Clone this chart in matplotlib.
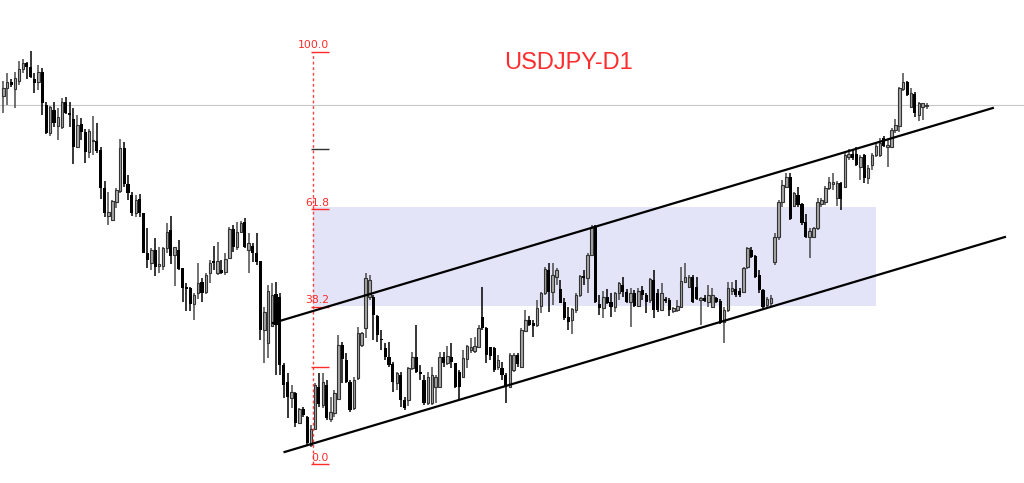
import matplotlib
matplotlib.use("Agg")
import matplotlib.pyplot as plt
from matplotlib.patches import Rectangle
import numpy as np

# daily candles, price levels in chart points (higher = higher price)
opens = [
    404, 412, 418, 411, 419, 431, 437, 433, 421, 418,
    428, 395, 367, 390, 374, 373, 398, 387, 381, 353,
    376, 368, 348, 359, 359, 350, 312, 284, 280, 298,
    309, 352, 316, 305, 287, 301, 287, 247, 237, 250,
    234, 234, 252, 270, 245, 250, 232, 213,
    212, 196, 207, 218, 208, 227, 239, 227, 230, 228,
    242, 271, 253, 268, 278, 250, 254, 247, 239, 170,
    157, 174, 206, 203, 135, 118, 102, 107, 77, 91,
    83, 55, 71, 113, 95, 115, 81, 87, 101, 155,
    140, 118, 92, 122, 155, 172, 203, 203,
    184, 161, 152, 143, 136, 117, 125, 100, 100, 132,
    143, 128, 120, 97, 97, 113, 113, 143, 137, 143,
    137, 128, 123, 141, 150, 149, 153, 183, 172, 153,
    152, 133, 132, 125, 113, 130, 145, 133, 169, 180,
    177, 175, 194, 207, 230, 208, 223,
    211, 198, 183, 180, 190, 205, 224, 222, 245, 274,
    196, 192, 203, 198, 193, 207, 215, 208, 198, 207,
    194, 210, 205, 200, 220, 207, 190, 201, 200, 189,
    190, 193, 218, 213, 223, 213, 200, 202, 198, 193,
    202, 199, 178, 190, 209, 211, 209, 208,
    233, 250, 244, 225, 210, 195, 197, 238, 263, 298,
    313, 323, 294, 305, 296, 278, 263, 263, 272, 296,
    298, 312, 316, 302, 317, 313, 343, 346, 346, 333,
    345, 322, 335, 345, 345, 362, 353, 353, 370, 374,
    411, 418, 393, 406, 385, 393, 394,
]
highs = [
    419, 427, 421, 428, 439, 441, 438, 449, 427, 435,
    432, 398, 394, 398, 392, 402, 403, 398, 392, 385,
    382, 371, 371, 384, 377, 353, 319, 308, 300, 312,
    361, 358, 325, 308, 305, 306, 287, 272, 252, 262,
    253, 253, 277, 284, 253, 260, 232, 217,
    213, 207, 237, 222, 227, 240, 254, 258, 240, 247,
    273, 275, 278, 279, 282, 267, 257, 267, 239, 193,
    215, 217, 218, 207, 137, 127, 115, 108, 92, 93,
    84, 75, 117, 127, 127, 120, 103, 110, 165, 158,
    147, 120, 123, 173, 168, 227, 225, 205,
    185, 170, 157, 158, 138, 128, 128, 103, 133, 148,
    175, 135, 125, 128, 133, 125, 148, 148, 154, 157,
    137, 130, 150, 155, 162, 163, 175, 213, 173, 153,
    153, 145, 138, 127, 147, 147, 147, 172, 190, 184,
    180, 200, 208, 233, 237, 237, 232,
    220, 202, 193, 192, 207, 225, 230, 247, 275, 275,
    205, 209, 211, 207, 208, 218, 223, 211, 212, 210,
    212, 214, 207, 222, 230, 211, 217, 203, 202, 193,
    200, 233, 237, 225, 225, 223, 203, 205, 215, 212,
    203, 201, 193, 218, 218, 220, 212, 233,
    253, 253, 245, 230, 211, 203, 205, 267, 300, 320,
    327, 327, 308, 313, 297, 286, 272, 273, 302, 302,
    314, 323, 327, 319, 318, 348, 351, 350, 353, 345,
    346, 335, 347, 357, 362, 364, 360, 372, 381, 413,
    427, 419, 412, 408, 398, 397, 397,
]
lows = [
    387, 395, 413, 392, 415, 427, 421, 422, 407, 410,
    385, 366, 364, 373, 360, 371, 386, 373, 336, 352,
    360, 337, 342, 345, 347, 301, 283, 275, 279, 292,
    307, 313, 300, 284, 283, 283, 247, 232, 230, 224,
    227, 230, 247, 236, 214, 230, 198, 189,
    189, 180, 201, 198, 206, 217, 230, 225, 226, 225,
    241, 248, 250, 267, 252, 227, 238, 235, 160, 137,
    142, 173, 125, 125, 102, 82, 92, 73, 77, 83,
    54, 53, 70, 93, 92, 80, 78, 83, 100, 117,
    117, 88, 90, 120, 153, 162, 200, 160,
    158, 150, 140, 133, 108, 110, 93, 90, 94, 130,
    127, 120, 95, 95, 95, 97, 112, 133, 135, 132,
    112, 101, 123, 132, 147, 147, 152, 170, 137, 140,
    128, 130, 120, 97, 112, 128, 133, 132, 168, 174,
    163, 173, 187, 205, 188, 195, 215,
    197, 180, 170, 166, 187, 203, 215, 207, 244, 197,
    185, 182, 196, 183, 188, 200, 203, 197, 173, 193,
    193, 200, 187, 197, 182, 188, 189, 197, 184, 187,
    188, 192, 217, 212, 197, 200, 175, 198, 193, 193,
    197, 176, 157, 188, 205, 203, 203, 207,
    231, 242, 222, 207, 190, 192, 193, 235, 260, 293,
    312, 280, 293, 293, 275, 262, 242, 262, 270, 293,
    295, 310, 310, 294, 290, 312, 340, 340, 334, 320,
    317, 316, 330, 343, 343, 353, 333, 352, 367, 368,
    409, 404, 392, 383, 379, 380, 391,
]
closes = [
    412, 418, 415, 422, 431, 437, 433, 423, 417, 428,
    397, 367, 393, 377, 383, 398, 387, 385, 353, 375,
    368, 348, 369, 360, 349, 312, 287, 288, 299, 310,
    352, 316, 307, 287, 300, 287, 247, 240, 250, 233,
    236, 252, 268, 244, 253, 231, 212, 211,
    196, 205, 217, 207, 225, 237, 237, 239, 227, 241,
    271, 253, 268, 277, 253, 257, 247, 238, 170, 188,
    209, 205, 175, 135, 115, 103, 108, 77, 91, 85,
    57, 71, 115, 96, 118, 82, 88, 107, 155, 141,
    118, 90, 120, 167, 167, 222, 220, 185,
    165, 160, 143, 135, 118, 127, 100, 92, 132, 143,
    128, 126, 97, 123, 125, 123, 143, 137, 144, 138,
    113, 113, 142, 154, 153, 154, 172, 172, 145, 144,
    130, 140, 125, 113, 145, 145, 136, 170, 180, 175,
    174, 192, 207, 231, 208, 225, 230,
    197, 182, 178, 191, 205, 224, 222, 245, 273, 198,
    192, 203, 197, 193, 207, 217, 208, 198, 207, 194,
    209, 205, 198, 221, 190, 190, 207, 199, 190, 192,
    194, 219, 223, 223, 198, 201, 202, 199, 205, 205,
    198, 177, 190, 212, 212, 205, 205, 232,
    252, 243, 223, 210, 193, 201, 202, 263, 298, 315,
    323, 281, 307, 295, 277, 263, 269, 272, 298, 300,
    312, 318, 318, 317, 301, 345, 346, 342, 335, 343,
    322, 332, 345, 354, 357, 354, 355, 370, 375, 412,
    418, 405, 407, 387, 397, 397, 395,
]

# fibonacci retracement (anchored high / low, in the same points)
fib_low, fib_high = 35.7, 448.3
fib_bar = 79.5
fib_levels = [0.0, 23.6, 38.2, 61.8, 76.4, 100.0]
fib_labels = ["0.0", "", "38.2", "61.8", "", "100.0"]
fib_colors = ["#ff2a2a", "#ff2a2a", "#ff2a2a", "#ff2a2a", "#303030", "#ff2a2a"]

# shaded zone between 38.2 and 61.8
zone_bars = [79.5, 224.0]
zone_prices = [194, 293]

# channel lines (bar index, price)
upper_x, upper_y = [69.2, 254.0], [177, 392]
lower_x, lower_y = [72.2, 257.1], [48, 263]

last_price = 395

o = np.array(opens, float)
h = np.array(highs, float)
l = np.array(lows, float)
c = np.array(closes, float)
x = np.arange(len(o))
up = c >= o

fig = plt.figure(figsize=(10.24, 4.83), dpi=100)
ax = fig.add_axes([0, 0, 1, 1])
ax.set_xlim(-0.85, 262.0)
ax.set_ylim(17, 500)
ax.axis("off")

ax.add_patch(Rectangle((zone_bars[0], zone_prices[0]), zone_bars[1] - zone_bars[0],
                       zone_prices[1] - zone_prices[0], facecolor="#e4e4f8",
                       edgecolor="none", zorder=0))
ax.axhline(last_price, color="#c8c8c8", lw=0.8, zorder=1)

# candles
ax.vlines(x[up], l[up], h[up], color="#4a4a4a", lw=1.1, zorder=2)
ax.vlines(x[~up], l[~up], h[~up], color="black", lw=1.1, zorder=2)
body = np.maximum(np.abs(c - o), 0.8)
bottom = np.minimum(o, c)
ax.bar(x[up], body[up], bottom=bottom[up], width=0.64, facecolor="#a6a6a6",
       edgecolor="#333333", lw=0.8, zorder=3)
ax.bar(x[~up], body[~up], bottom=bottom[~up], width=0.8, color="black", zorder=3)

# fibonacci
ax.vlines(fib_bar, fib_low, fib_high, color="#ff4040", lw=1.0,
          linestyles=(0, (2, 2)), zorder=4)
for lvl, lab, col in zip(fib_levels, fib_labels, fib_colors):
    yv = fib_low + lvl / 100 * (fib_high - fib_low)
    ax.hlines(yv, fib_bar - 0.5, fib_bar + 4.1, color=col, lw=1.0, zorder=4)
    if lab:
        ax.text(fib_bar + 4.1, yv + 1.5, lab, ha="right", va="bottom",
                color="#ff2a2a", fontsize=7.8, zorder=5)

# channel
ax.plot(upper_x, upper_y, color="black", lw=1.6, zorder=5)
ax.plot(lower_x, lower_y, color="black", lw=1.6, zorder=5)

ax.text(0.5547, 0.8696, "USDJPY-D1", transform=ax.transAxes, ha="center",
        va="center", color="#ff2d2d", fontsize=17, family="Liberation Sans")

fig.savefig("out.png", dpi=100)
